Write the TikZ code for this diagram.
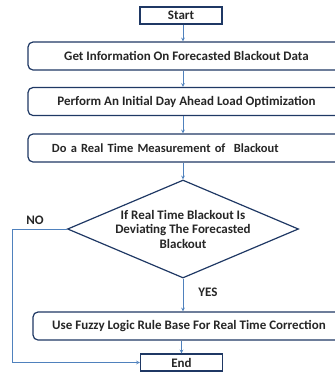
\documentclass[tikz,border=0pt]{standalone}
\usepackage{fontspec}
\setmainfont{Carlito}
\usetikzlibrary{shapes.geometric}
\definecolor{boxline}{RGB}{31,56,100}
\definecolor{arrowline}{RGB}{79,129,189}
\tikzset{
  txt/.style={font=\bfseries\fontsize{13}{14.5}\selectfont, text=black!85},
  stepbox/.style={txt, draw=boxline, line width=1.2pt, rounded corners=5pt, minimum width=317pt, minimum height=28pt},
  termbox/.style={txt, draw=boxline, line width=1.2pt, minimum width=82pt, minimum height=17pt, inner sep=0pt},
  decision/.style={txt, diamond, draw=boxline, line width=1.2pt, aspect=2.3, inner sep=-1pt, align=center,
    minimum width=231pt, minimum height=98pt},
  flow/.style={draw=arrowline, line width=0.7pt, ->, >=stealth}
}
\begin{document}
\begin{tikzpicture}[x=1pt,y=1pt]
  \useasboundingbox (0,0) rectangle (335,-373);
  % boxes
  \node[termbox] (start) at (181,-15.5) {Start};
  \node[stepbox] (info) at (186.5,-56) {Get Information On Forecasted Blackout Data};
  \node[stepbox] (opt) at (186.5,-101.5) {Perform An Initial Day Ahead Load Optimization};
  \node[stepbox, text width=269pt, inner xsep=24pt, align=left, font=\bfseries\fontsize{12.5}{14.5}\selectfont] (meas) at (186.5,-148) {Do a Real Time Measurement of\ \ Blackout};
  \node[decision] (dev) at (183,-229) {If Real Time Blackout Is\\Deviating The Forecasted\\Blackout};
  \node[stepbox, minimum width=312pt] (fuzzy) at (189,-326) {Use Fuzzy Logic Rule Base For Real Time Correction};
  \node[termbox] (end) at (181.5,-362.5) {End};
  % answers
  \node[txt] (no) at (35,-220) {NO};
  \node[txt] (yes) at (208,-292) {YES};
  % arrows
  \draw[flow] (start.south -| dev.north) -- (info.north -| dev.north);
  \draw[flow] (info.south -| dev.north) -- (opt.north -| dev.north);
  \draw[flow] (opt.south -| dev.north) -- (meas.north -| dev.north);
  \draw[flow] (meas.south -| dev.north) -- (dev.north);
  \draw[flow] (dev.south) -- (fuzzy.north -| dev.south);
  \draw[flow] (fuzzy.south -| end.north) -- (end.north);
  \draw[flow] (dev.west) -- ++(-55,0) |- (end.west);
\end{tikzpicture}
\end{document}
